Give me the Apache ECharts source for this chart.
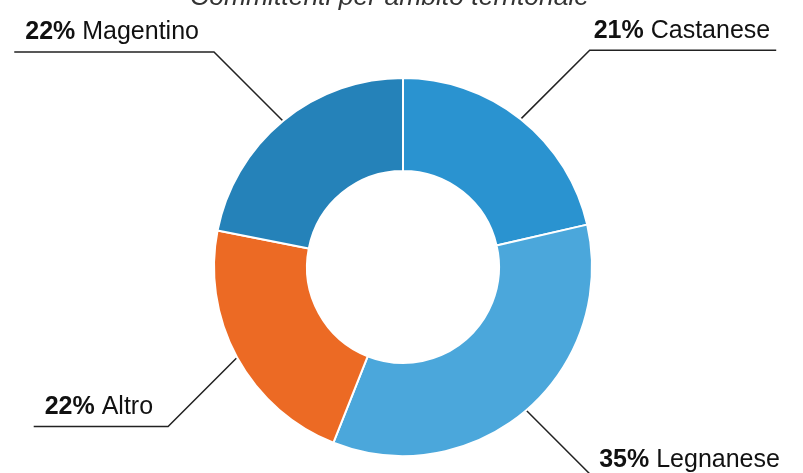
<!DOCTYPE html>
<html>
<head>
<meta charset="utf-8">
<script src="https://cdn.jsdelivr.net/npm/echarts@6/dist/echarts.min.js"></script>
<style>
html,body{margin:0;padding:0;background:#fff;}
#c{width:803px;height:473px;}
</style>
</head>
<body>
<div id="c"></div>
<script>
// Data
const titleText = 'Committenti per ambito territoriale';
const categories = ['Castanese', 'Legnanese', 'Altro', 'Magentino'];
const shares = [21.4, 34.6, 22.1, 21.9];      // percent shares (labels show them rounded)
const colors = ['#2a93d0', '#4ba7db', '#ec6a24', '#2582b9'];

const CENTER = [403, 267];
const DIAG = 69;

const chart = echarts.init(document.getElementById('c'), null, { renderer: 'canvas' });

const data = categories.map((name, i) => ({
  name: name,
  value: shares[i],
  itemStyle: { color: colors[i] }
}));

chart.setOption({
  animation: false,
  backgroundColor: '#ffffff',
  title: {
    text: titleText,
    left: 190,
    top: -16,
    padding: 0,
    textStyle: {
      fontFamily: 'Liberation Sans',
      fontStyle: 'italic',
      fontWeight: 'normal',
      fontSize: 26.5,
      color: '#333'
    }
  },
  series: [{
    type: 'pie',
    center: CENTER,
    radius: [96, 189],
    startAngle: 90,
    clockwise: true,
    avoidLabelOverlap: false,
    itemStyle: { borderColor: '#ffffff', borderWidth: 2 },
    label: {
      show: true,
      position: 'outside',
      overflow: 'none',
      fontFamily: 'Liberation Sans',
      formatter: function (p) {
        return '{p|' + Math.round(p.value) + '%}{n| ' + p.name + '}';
      },
      rich: {
        p: { fontFamily: 'Liberation Sans', fontSize: 25, fontWeight: 'bold', color: '#111' },
        n: { fontFamily: 'Liberation Sans', fontSize: 25, color: '#111' }
      }
    },
    labelLine: {
      show: true,
      length: 60,
      length2: 20,
      smooth: false,
      lineStyle: { color: '#222', width: 1.5 }
    },
    labelLayout: function (params) {
      const pts = params.labelLinePoints;
      if (!pts) return {};
      const s = pts[0];
      const left = s[0] < CENTER[0];
      const up = s[1] < CENTER[1];
      const ex = s[0] + (left ? -DIAG : DIAG);
      const ey = s[1] + (up ? -DIAG : DIAG);
      const w = params.labelRect.width;
      let lx, endX;
      if (left) { lx = ex - 15 - w; endX = lx - 11; }
      else { lx = ex + 4; endX = lx + w + 6; }
      return {
        x: lx,
        y: ey - 7,
        align: 'left',
        verticalAlign: 'bottom',
        labelLinePoints: [[s[0], s[1]], [ex, ey], [endX, ey]]
      };
    },
    emphasis: { disabled: true },
    data: data
  }]
});
</script>
</body>
</html>
